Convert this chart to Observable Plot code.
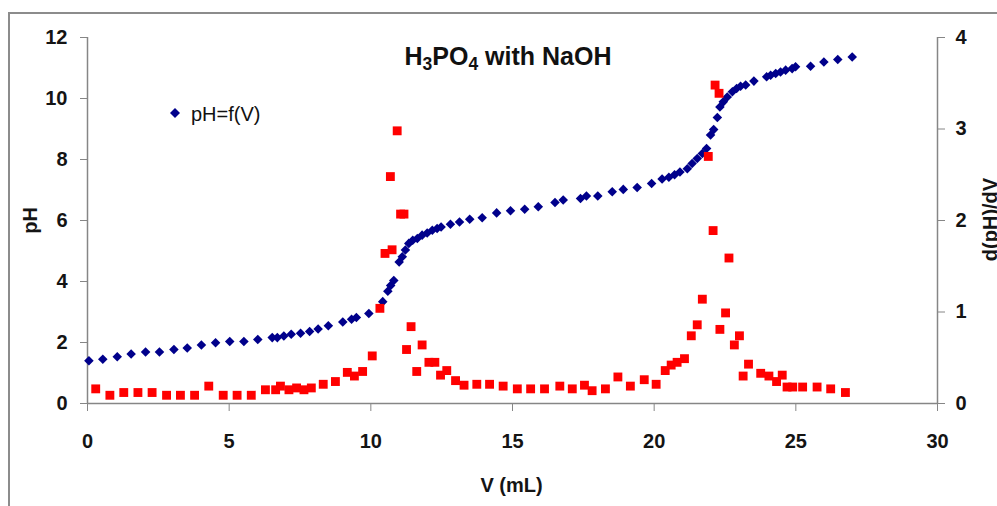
<!DOCTYPE html>
<html>
<head>
<meta charset="utf-8">
<script src="https://cdn.jsdelivr.net/npm/d3@7"></script>
<script src="https://cdn.jsdelivr.net/npm/@observablehq/plot@0.6"></script>
<style>
  html, body { margin: 0; padding: 0; background: #fff; }
  #wrap { position: relative; width: 997px; height: 506px; overflow: hidden; font-family: "Liberation Sans", Arial, sans-serif; }
  #frame { position: absolute; left: 8px; top: 12px; width: 1200px; height: 800px; border-left: 2px solid #8c8c8c; border-top: 2px solid #8c8c8c; box-sizing: border-box; }
  #chart { position: absolute; left: 0; top: 0; }
  #title { position: absolute; left: 0; width: 1016px; top: 44px; text-align: center; font-size: 25px; line-height: 25px; font-weight: bold; color: #111; white-space: nowrap; }
  #title sub { font-size: 0.7em; vertical-align: -0.3em; line-height: 0; }
  #legend { position: absolute; left: 169px; top: 104px; font-size: 20px; line-height: 20px; color: #111; white-space: nowrap; }
  #legend svg { position: absolute; left: 0; top: 3px; }
  #legend span { position: absolute; left: 22px; top: 0; }
</style>
</head>
<body>
<div id="wrap">
  <div id="frame"></div>
  <div id="chart"></div>
  <div id="title">H<sub>3</sub>PO<sub>4</sub> with NaOH</div>
  <div id="legend"><svg width="14" height="14"><polygon points="6,1 11,6 6,11 1,6" fill="#00008B"/></svg><span>pH=f(V)</span></div>
</div>
<script>
// pH = f(V) series (blue diamonds)
const volumePH = [0.05,0.54,1.05,1.54,2.05,2.54,3.05,3.52,4.02,4.52,5.02,5.52,6.01,6.52,6.70,6.93,7.19,7.52,7.84,8.14,8.50,9.01,9.32,9.49,9.93,10.42,10.60,10.70,10.81,11.00,11.11,11.22,11.34,11.48,11.64,11.81,11.99,12.17,12.34,12.48,12.81,13.13,13.49,13.93,14.44,14.93,15.43,15.91,16.50,16.79,17.40,17.61,18.01,18.52,18.91,19.40,19.91,20.28,20.52,20.72,20.91,21.17,21.34,21.52,21.70,21.85,21.99,22.10,22.23,22.32,22.44,22.58,22.76,22.91,23.05,23.23,23.52,23.97,24.11,24.29,24.46,24.64,24.87,24.99,25.52,25.99,26.48,26.99];
const pHValues = [1.40,1.45,1.53,1.62,1.69,1.69,1.77,1.82,1.92,1.99,2.03,2.03,2.10,2.16,2.16,2.21,2.27,2.30,2.36,2.44,2.55,2.67,2.76,2.82,2.95,3.34,3.68,3.87,4.03,4.64,4.81,5.03,5.25,5.35,5.41,5.52,5.59,5.68,5.74,5.79,5.88,5.95,6.04,6.09,6.25,6.32,6.37,6.45,6.59,6.67,6.72,6.80,6.80,6.94,7.02,7.08,7.21,7.36,7.42,7.50,7.59,7.70,7.87,8.03,8.20,8.36,8.80,8.98,9.38,9.72,9.89,10.05,10.22,10.33,10.40,10.44,10.57,10.71,10.76,10.82,10.87,10.93,10.98,11.04,11.06,11.20,11.28,11.36];

// d(pH)/dV series (red squares, right axis)
const volumeD = [0.29,0.79,1.28,1.78,2.28,2.79,3.28,3.78,4.28,4.79,5.28,5.78,6.28,6.64,6.81,7.11,7.38,7.64,7.90,8.32,8.75,9.17,9.42,9.71,10.05,10.32,10.50,10.69,10.75,10.93,11.05,11.17,11.26,11.42,11.62,11.81,12.05,12.26,12.46,12.68,12.99,13.29,13.74,14.19,14.67,15.17,15.64,16.13,16.67,17.11,17.54,17.81,18.28,18.72,19.16,19.65,20.07,20.39,20.60,20.81,21.07,21.31,21.52,21.70,21.91,22.08,22.15,22.29,22.32,22.52,22.64,22.83,23.01,23.14,23.33,23.76,24.05,24.32,24.52,24.69,24.89,25.24,25.75,26.23,26.75];
const dpHdV = [0.16,0.09,0.12,0.12,0.12,0.09,0.09,0.09,0.19,0.09,0.09,0.09,0.15,0.15,0.19,0.15,0.17,0.15,0.17,0.21,0.24,0.34,0.30,0.35,0.52,1.04,1.64,2.48,1.68,2.98,2.07,2.07,0.59,0.84,0.35,0.64,0.45,0.45,0.31,0.36,0.25,0.20,0.21,0.21,0.19,0.16,0.16,0.16,0.19,0.16,0.20,0.14,0.16,0.29,0.19,0.26,0.21,0.36,0.42,0.45,0.49,0.74,0.86,1.14,2.70,1.89,3.48,3.39,0.81,0.99,1.59,0.64,0.74,0.30,0.43,0.33,0.30,0.24,0.31,0.18,0.18,0.18,0.18,0.16,0.12];

// axis ticks
const xTicks = [0,5,10,15,20,25,30];
const pHTicks = [0,2,4,6,8,10,12];
const dTicks = [0,1,2,3,4];

const phData = volumePH.map((v, i) => ({v, ph: pHValues[i]}));
const dData = volumeD.map((v, i) => ({v, d: dpHdV[i]}));
const ratio = 12 / 4; // right axis (0-4) mapped onto left axis (0-12)

const axisGray = "#868686";
const textColor = "#141414";

const chart = Plot.plot({
  width: 997,
  height: 506,
  marginLeft: 87,
  marginRight: 60,
  marginTop: 37,
  marginBottom: 103,
  style: {fontFamily: "Liberation Sans, Arial, sans-serif", fontSize: "20px", fontWeight: "bold", background: "transparent", color: textColor},
  x: {domain: [0, 30]},
  y: {domain: [0, 12]},
  marks: [
    Plot.ruleX([0], {stroke: axisGray, strokeWidth: 1.5}),
    Plot.ruleX([30], {stroke: axisGray, strokeWidth: 1.5}),
    Plot.ruleY([0], {stroke: axisGray, strokeWidth: 1.5}),
    Plot.axisY({anchor: "left", ticks: pHTicks, tickSize: 7, tickPadding: 13, stroke: axisGray, fill: textColor, label: null, fontSize: 20, fontWeight: "bold"}),
    Plot.axisY({anchor: "right", ticks: dTicks.map(t => t * ratio), tickFormat: d => d / ratio, tickSize: 7, tickPadding: 11, stroke: axisGray, fill: textColor, label: null, fontSize: 20, fontWeight: "bold"}),
    Plot.axisX({anchor: "bottom", ticks: xTicks, tickSize: 8, tickPadding: 22, stroke: axisGray, fill: textColor, label: null, fontSize: 20, fontWeight: "bold"}),
    Plot.dot(phData, {x: "v", y: "ph", symbol: "diamond2", r: 4.3, fill: "#00008B", stroke: "none"}),
    Plot.dot(dData, {x: "v", y: d => d.d * ratio, symbol: "square", r: 5.0, fill: "#FF0000", stroke: "none"}),
    Plot.text(["pH"], {frameAnchor: "left", textAnchor: "middle", dx: -57, rotate: -90, fontSize: 20, fontWeight: "bold", fill: textColor}),
    Plot.text(["d(pH)/dV"], {frameAnchor: "right", textAnchor: "middle", dx: 53, dy: -1, rotate: -90, fontSize: 20, fontWeight: "bold", fill: textColor}),
    Plot.text(["V (mL)"], {frameAnchor: "bottom", dx: -1, dy: 88, fontSize: 20, fontWeight: "bold", fill: textColor})
  ]
});
document.getElementById("chart").appendChild(chart);
</script>
</body>
</html>
